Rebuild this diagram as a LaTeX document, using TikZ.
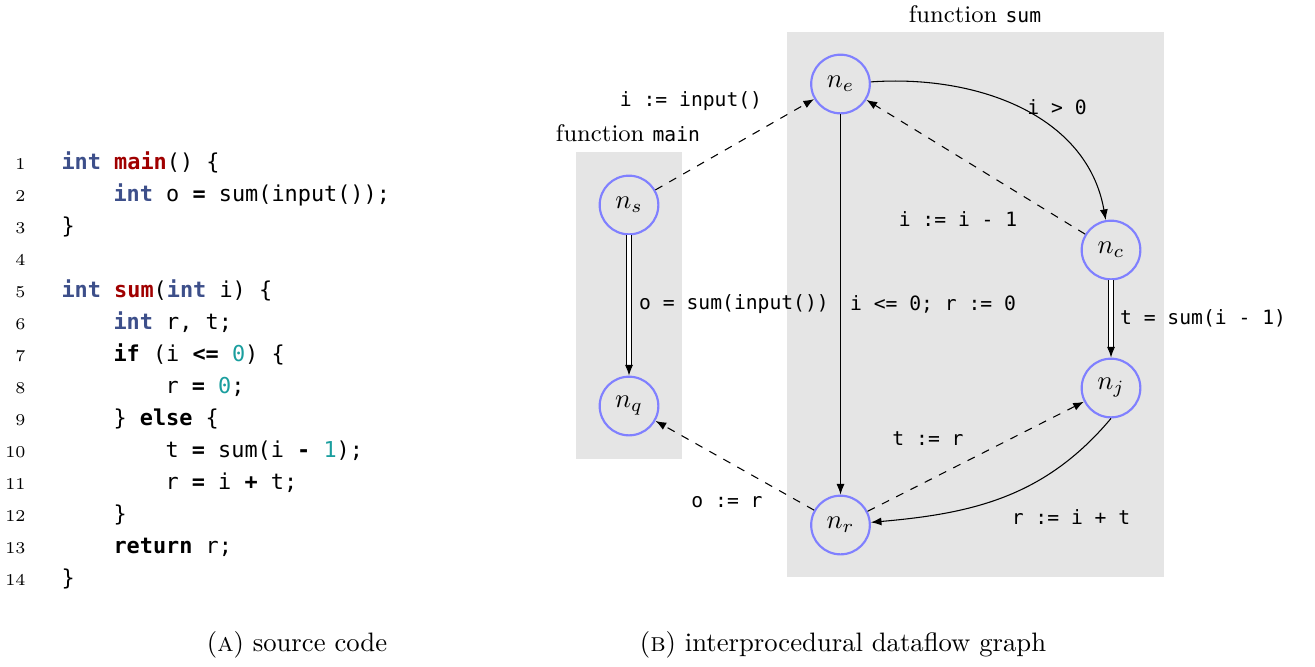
\documentclass[tikz,border=0pt]{standalone}
\usepackage{fontspec}
\setmonofont[Scale=0.82]{DejaVu Sans Mono}
\usetikzlibrary{arrows.meta}
\definecolor{kwblue}{RGB}{61,79,138}
\definecolor{fnred}{RGB}{160,0,0}
\definecolor{numteal}{RGB}{26,158,158}
\newcommand{\kwtype}[1]{\textbf{\color{kwblue}#1}}
\newcommand{\kwfun}[1]{\textbf{\color{fnred}#1}}
\newcommand{\kwnum}[1]{{\color{numteal}#1}}
\begin{document}
\begin{tikzpicture}[x=0.375pt, y=-0.375pt,
  vnode/.style={circle, draw=blue!50, line width=0.8pt, minimum size=22pt, inner sep=0pt},
  code/.style={anchor=base west, font=\ttfamily, inner sep=0pt},
  lineno/.style={anchor=base east, font=\fontsize{6.2}{7}\selectfont, inner sep=0pt},
  lbl/.style={font=\small\ttfamily, inner sep=1pt},
  flow/.style={-{Latex[length=4pt,width=3pt]}},
  bind/.style={flow, dashed},
  callret/.style={flow, double, double distance=1.2pt}]

\useasboundingbox (0,0) rectangle (1315,666);

\foreach \n in {1,...,14}
  \node[lineno] (ln\n) at (26,{137+32*\n}) {\n};

\node[code] (c1)  at (61,169)  {\kwtype{int} \kwfun{main}() \{};
\node[code] (c2)  at (113,201) {\kwtype{int} o \textbf{=} sum(input());};
\node[code] (c3)  at (61,233)  {\}};
\node[code] (c5)  at (61,297)  {\kwtype{int} \kwfun{sum}(\kwtype{int} i) \{};
\node[code] (c6)  at (113,329) {\kwtype{int} r, t;};
\node[code] (c7)  at (113,361) {\textbf{if} (i \textbf{<=} \kwnum{0}) \{};
\node[code] (c8)  at (165,393) {r \textbf{=} \kwnum{0};};
\node[code] (c9)  at (113,425) {\} \textbf{else} \{};
\node[code] (c10) at (165,457) {t \textbf{=} sum(i \textbf{-} \kwnum{1});};
\node[code] (c11) at (165,489) {r \textbf{=} i \textbf{+} t;};
\node[code] (c12) at (113,521) {\}};
\node[code] (c13) at (113,553) {\textbf{return} r;};
\node[code] (c14) at (61,585)  {\}};

\fill[gray!20] (576,152) rectangle (682,459);
\fill[gray!20] (787,32) rectangle (1164,577);
\node (tmain) at (628,133) {\small function \texttt{main}};
\node (tsum) at (975,14) {\small function \texttt{sum}};

\node[vnode] (ns) at (629,205) {$n_s$};
\node[vnode] (nq) at (629,406) {$n_q$};
\node[vnode] (ne) at (840.5,84)  {$n_e$};
\node[vnode] (nc) at (1111,250) {$n_c$};
\node[vnode] (nj) at (1111,388) {$n_j$};
\node[vnode] (nr) at (840.5,525) {$n_r$};

\draw[bind] (ns) -- (ne);
\draw[callret] (ns) -- (nq);
\draw[flow] (ne) to[out=4,in=100] (nc);
\draw[bind] (nc) -- (ne);
\draw[flow] (ne) -- (nr);
\draw[callret] (nc) -- (nj);
\draw[bind] (nr) -- (nj);
\draw[flow] (nj.south) to[out=-130,in=5] (nr);
\draw[bind] (nr) -- (nq);

\node[lbl] (linput) at (691,101)  {i := input()};
\node[lbl] (lgt)    at (1057,107) {i > 0};
\node[lbl] (ldec)   at (958,219)  {i := i - 1};
\node[lbl] (lmain)  at (734,304)  {o = sum(input())};
\node[lbl] (lbase)  at (933,304)  {i <= 0; r := 0};
\node[lbl] (lcall)  at (1203,318) {t = sum(i - 1)};
\node[lbl] (lt)     at (928,439)  {t := r};
\node[lbl] (lo)     at (727,502)  {o := r};
\node[lbl] (ladd)   at (1071,517) {r := i + t};

\node (capa) at (297,645) {(\textsc{a}) source code};
\node (capb) at (843,645) {(\textsc{b}) interprocedural dataflow graph};

\end{tikzpicture}
\end{document}
